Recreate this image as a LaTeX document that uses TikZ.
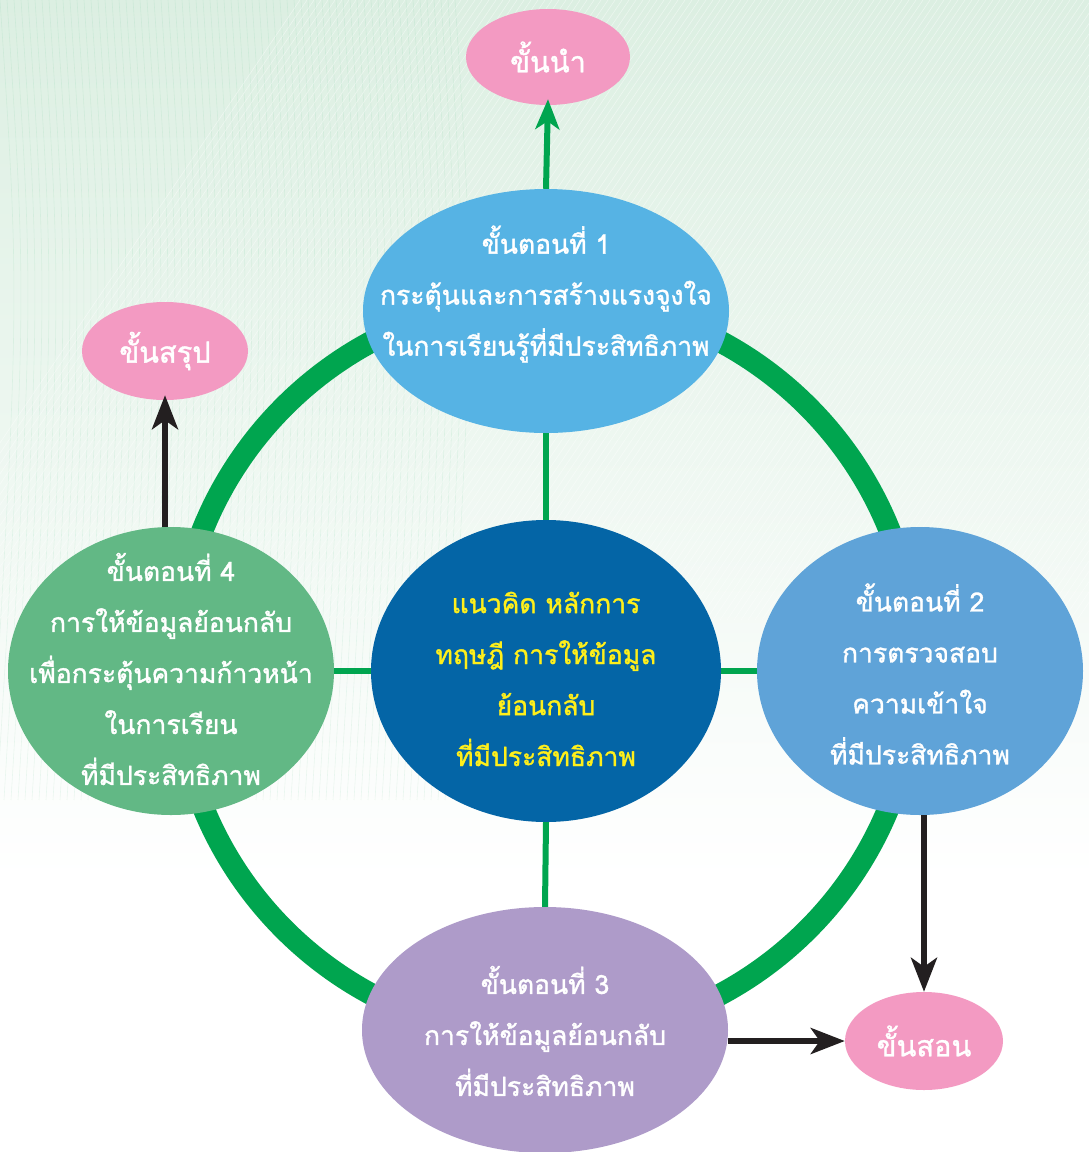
\documentclass[tikz,border=0pt]{standalone}
\usepackage{fontspec}
\newfontfamily\thaifont[Script=Thai,FakeBold=1.3]{Loma}
\usetikzlibrary{positioning,arrows.meta,shapes.geometric}
\definecolor{ringgreen}{HTML}{00A54F}
\definecolor{stepblue}{HTML}{56B3E4}
\definecolor{steplblue}{HTML}{5FA3D8}
\definecolor{steppurple}{HTML}{AE9BC9}
\definecolor{stepgreen}{HTML}{62B885}
\definecolor{coreblue}{HTML}{0465A6}
\definecolor{tippink}{HTML}{F39AC2}
\definecolor{arrowblack}{HTML}{231F20}
\definecolor{coreyellow}{HTML}{FFEF1A}
\definecolor{bggreen}{HTML}{DCEFE2}

\begin{document}
\begin{tikzpicture}[x=1pt,y=-1pt,
    stepnode/.style={ellipse, inner sep=0pt},
    steptext/.style={text=white, align=center, inner sep=0pt,
      font=\thaifont\fontsize{26.5}{51}\selectfont},
    tipnode/.style={ellipse, fill=tippink, inner sep=0pt, text=white,
      font=\thaifont\fontsize{29}{30}\selectfont},
    spoke/.style={draw=ringgreen, line width=6pt},
    greenarrow/.style={draw=ringgreen, line width=6pt,
      -{Stealth[length=30pt,width=24pt,inset=8pt]}},
    blackarrow/.style={draw=arrowblack, line width=6pt,
      -{Stealth[length=34pt,width=26pt,inset=9pt]}}]

  % background
  \useasboundingbox (0,0) rectangle (1089,1152);
  \fill[white] (0,0) rectangle (1089,1152);
  \shade[top color=bggreen, bottom color=white] (0,0) rectangle (1089,880);
  \foreach \k in {0,7,...,460}
    \draw[ringgreen, opacity=0.07, line width=0.6pt] (\k,0) .. controls (\k+20,300) .. (\k-10,800);
  \foreach \k in {300,307,...,1500}
    \draw[white, opacity=0.45, line width=0.6pt] (\k,0) -- (\k-420,620);

  % ring
  \coordinate (hub) at (546,668);
  \draw[ringgreen, line width=22pt] (hub) circle[radius=370pt];

  % steps
  \foreach \nm/\cx/\cy/\rx/\ry/\col/\ty/\txt in {
      s1/546/311/183/122/stepblue/294/{ขั้นตอนที่ 1\\กระตุ้นและการสร้างแรงจูงใจ\\ในการเรียนรู้ที่มีประสิทธิภาพ},
      s2/920/671/163/144/steplblue/674/{ขั้นตอนที่ 2\\การตรวจสอบ\\ความเข้าใจ\\ที่มีประสิทธิภาพ},
      s3/545/1030/183/123/steppurple/1031/{ขั้นตอนที่ 3\\การให้ข้อมูลย้อนกลับ\\ที่มีประสิทธิภาพ},
      s4/171/671/163/144/stepgreen/669/{ขั้นตอนที่ 4\\การให้ข้อมูลย้อนกลับ\\เพื่อกระตุ้นความก้าวหน้า\\ในการเรียน\\ที่มีประสิทธิภาพ}} {
    \node[stepnode, fill=\col, minimum width=2*\rx, minimum height=2*\ry] (\nm) at (\cx,\cy) {};
    \node[steptext] (\nm txt) at (\cx,\ty) {\txt};
  }

  % core
  \node[stepnode, fill=coreblue, minimum width=350, minimum height=302] (core) at (546,671) {};
  \node[steptext, text=coreyellow] (coretxt) at (546,679)
    {แนวคิด หลักการ\\ทฤษฎี การให้ข้อมูล\\ย้อนกลับ\\ที่มีประสิทธิภาพ};

  \draw[spoke] (core.north) -- (s1.south);
  \draw[spoke] (core.south) -- (s3.north);
  \draw[spoke] (core.west) -- (s4.east);
  \draw[spoke] (core.east) -- (s2.west);

  % phases
  \node[tipnode, minimum width=164, minimum height=96] (intro) at (548,57) {ขั้นนำ};
  \node[tipnode, minimum width=166, minimum height=98] (sum) at (165,351) {ขั้นสรุป};
  \node[tipnode, minimum width=158, minimum height=98] (teach) at (924,1041) {ขั้นสอน};

  \draw[greenarrow] (s1.north) -- ([yshift=6pt]intro.south);
  \draw[blackarrow] (s4.north -| sum.south) -- ([yshift=5pt]sum.south);
  \draw[blackarrow] (s2.south -| teach.north) -- (teach.north);
  \draw[blackarrow] (s3.east |- teach.west) -- (teach.west);
\end{tikzpicture}
\end{document}
